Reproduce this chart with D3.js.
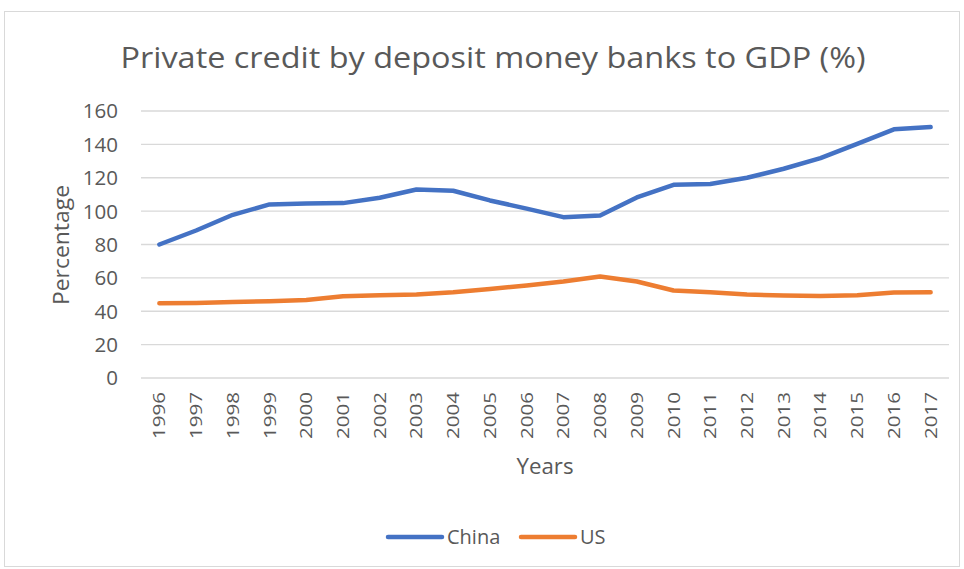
<!DOCTYPE html>
<html><head><meta charset="utf-8">
<script src="https://cdn.jsdelivr.net/npm/d3@7"></script>
<style>body{margin:0;background:#fff}text{font-family:"Open Sans",Calibri,sans-serif;fill:#595959}</style>
</head><body><svg id="c" width="964" height="569"></svg>
<script>
const years = ["1996","1997","1998","1999","2000","2001","2002","2003","2004","2005","2006","2007","2008","2009","2010","2011","2012","2013","2014","2015","2016","2017"];
const china = [80,88.4,97.8,104,104.6,104.8,108,113,112.2,106.4,101.5,96.4,97.4,108.2,115.8,116.3,120,125.4,131.8,140.3,149,150.4];
const us = [44.8,45,45.6,46,46.8,49,49.6,50,51.4,53.4,55.4,57.8,60.8,57.8,52.4,51.4,50,49.4,49.2,49.6,51.2,51.4];
const yTicks = [0,20,40,60,80,100,120,140,160];
const seriesNames = ["China","US"];
const colors = ["#4472C4","#ED7D31"];

const svg = d3.select("#c");
svg.append("rect").attr("x",4.5).attr("y",11.5).attr("width",955).attr("height",555)
  .attr("fill","#fff").attr("stroke","#d9d9d9");

const x = d3.scaleBand().domain(years).range([141,949]);
const y = d3.scaleLinear().domain([0,160]).range([378,111]);

svg.append("g").selectAll("line").data(yTicks).join("line")
  .attr("x1",141).attr("x2",949).attr("y1",d=>y(d)).attr("y2",d=>y(d))
  .attr("stroke","#d9d9d9").attr("stroke-width",1.3);

svg.append("g").selectAll("text").data(yTicks).join("text")
  .attr("x",118).attr("y",d=>y(d)).attr("dy","0.36em").attr("text-anchor","end")
  .attr("font-size",20.5).text(d=>d);

svg.append("g").selectAll("text").data(years).join("text")
  .attr("transform",d=>`translate(${x(d)+x.bandwidth()/2+6},392) rotate(-90)`)
  .attr("text-anchor","end").attr("font-size",17).attr("textLength",47).attr("lengthAdjust","spacingAndGlyphs").text(d=>d);

const line = d3.line().x((d,i)=>x(years[i])+x.bandwidth()/2).y(d=>y(d));
[china,us].forEach((s,k)=>{
  svg.append("path").datum(s).attr("d",line).attr("fill","none")
    .attr("stroke",colors[k]).attr("stroke-width",4.5).attr("stroke-linejoin","round").attr("stroke-linecap","round");
});

svg.append("text").attr("x",493).attr("y",68).attr("text-anchor","middle")
  .attr("font-size",29).attr("textLength",745).attr("lengthAdjust","spacingAndGlyphs")
  .text("Private credit by deposit money banks to GDP (%)");
svg.append("text").attr("x",545).attr("y",474).attr("text-anchor","middle").attr("font-size",21.5).attr("textLength",57).attr("lengthAdjust","spacingAndGlyphs").text("Years");
svg.append("text").attr("transform","translate(69,245) rotate(-90)").attr("text-anchor","middle").attr("font-size",21.5).attr("textLength",120).attr("lengthAdjust","spacingAndGlyphs").text("Percentage");

const lg = [{x:388},{x:521}];
seriesNames.forEach((n,k)=>{
  svg.append("line").attr("x1",lg[k].x).attr("x2",lg[k].x+54).attr("y1",537).attr("y2",537)
    .attr("stroke",colors[k]).attr("stroke-width",4.5).attr("stroke-linecap","round");
  svg.append("text").attr("x",lg[k].x+59).attr("y",537).attr("dy","0.36em").attr("font-size",20).text(n);
});
</script></body></html>
